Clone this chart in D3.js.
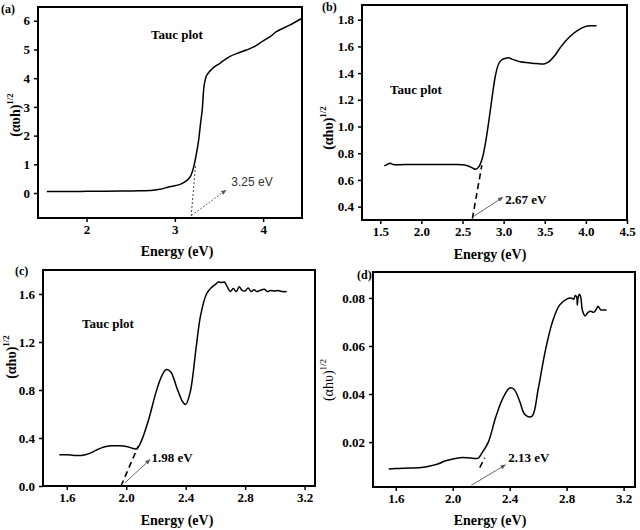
<!DOCTYPE html>
<html><head><meta charset="utf-8">
<script src="https://cdn.jsdelivr.net/npm/d3@7"></script>
<style>body{margin:0;background:#fff}svg{display:block}</style>
</head><body>
<script>
// ---- data ----
const aEnergy = [1.55,1.8,2.0,2.2,2.4,2.6,2.75,2.83,2.94,3.06,3.14,3.18,3.21,3.24,3.27,3.29,3.31,3.33,3.345,3.36,3.43,3.51,3.62,3.72,3.81,3.9,4.0,4.08,4.15,4.3,4.43];
const aValue  = [0.05,0.05,0.06,0.06,0.07,0.08,0.1,0.13,0.22,0.3,0.45,0.6,0.87,1.3,1.85,2.4,2.9,3.72,3.95,4.1,4.35,4.52,4.75,4.88,4.98,5.1,5.3,5.45,5.62,5.85,6.07];

const bEnergy = [1.55,1.58,1.62,1.66,1.8,2.0,2.2,2.4,2.5,2.57,2.62,2.66,2.7,2.74,2.78,2.82,2.86,2.9,2.94,2.98,3.02,3.06,3.1,3.2,3.3,3.4,3.5,3.56,3.62,3.7,3.8,3.9,4.0,4.06,4.13];
const bValue  = [0.705,0.715,0.725,0.715,0.715,0.715,0.715,0.715,0.713,0.705,0.69,0.68,0.7,0.76,0.88,1.04,1.22,1.38,1.47,1.5,1.51,1.515,1.505,1.485,1.478,1.472,1.47,1.49,1.53,1.6,1.67,1.72,1.75,1.755,1.755];

const cEnergy = [1.55,1.6,1.65,1.7,1.75,1.8,1.85,1.9,1.95,2.0,2.04,2.07,2.1,2.15,2.2,2.24,2.27,2.3,2.34,2.38,2.4,2.43,2.47,2.5,2.54,2.57,2.6,2.62,2.64,2.66,2.68,2.7,2.72,2.74,2.76,2.78,2.8,2.82,2.84,2.86,2.88,2.9,2.93,2.95,2.97,3.0,3.02,3.05,3.08];
const cValue  = [0.26,0.26,0.255,0.255,0.27,0.3,0.325,0.335,0.335,0.33,0.315,0.31,0.37,0.55,0.78,0.92,0.97,0.95,0.82,0.7,0.68,0.78,1.15,1.42,1.6,1.65,1.68,1.7,1.695,1.7,1.66,1.62,1.645,1.62,1.66,1.63,1.625,1.65,1.62,1.635,1.62,1.63,1.64,1.62,1.63,1.625,1.63,1.62,1.62];

const dEnergy = [1.55,1.6,1.7,1.78,1.85,1.9,1.95,2.0,2.05,2.1,2.15,2.18,2.2,2.25,2.3,2.35,2.4,2.43,2.47,2.5,2.53,2.56,2.6,2.65,2.7,2.75,2.8,2.83,2.85,2.86,2.87,2.875,2.88,2.89,2.9,2.91,2.93,2.95,2.97,2.99,3.01,3.02,3.04,3.06,3.08];
const dValue  = [0.0088,0.009,0.0092,0.0094,0.0102,0.011,0.0122,0.013,0.0135,0.0135,0.0132,0.0133,0.015,0.02,0.03,0.038,0.0425,0.042,0.037,0.032,0.0305,0.031,0.042,0.058,0.07,0.077,0.0795,0.08,0.0795,0.081,0.0805,0.077,0.08,0.0815,0.08,0.075,0.0725,0.074,0.0745,0.074,0.0755,0.0765,0.075,0.075,0.075];

const aXTicks = [2,3,4];           const aYTicks = [0,1,2,3,4,5,6];
const bXTicks = [1.5,2.0,2.5,3.0,3.5,4.0,4.5]; const bYTicks = [0.4,0.6,0.8,1.0,1.2,1.4,1.6,1.8];
const cXTicks = [1.6,2.0,2.4,2.8,3.2]; const cYTicks = [0.0,0.4,0.8,1.2,1.6];
const dXTicks = [1.6,2.0,2.4,2.8,3.2]; const dYTicks = [0.02,0.04,0.06,0.08];

const panelLetters = ["(a)","(b)","(c)","(d)"];
const gapLabels = ["3.25 eV","2.67 eV","1.98 eV","2.13 eV"];
const xTitle = "Energy (eV)";
const yTitles = ["(αυh)","(αhυ)","(αhυ)","(αhυ)"];
const tauc = "Tauc plot";

// ---- drawing ----
const W = 640, H = 530;
const svg = d3.select("body").append("svg").attr("width", W).attr("height", H);
const defs = svg.append("defs");
defs.append("marker").attr("id","arr").attr("viewBox","0 0 10 10").attr("refX",9).attr("refY",5)
  .attr("markerWidth",6).attr("markerHeight",6).attr("orient","auto-start-reverse")
  .append("path").attr("d","M0,1 L10,5 L0,9 z").attr("fill","#555");

const serif = "Liberation Serif";
const sans = "Liberation Sans";

const panels = [
  {E:aEnergy, V:aValue, xt:aXTicks, yt:aYTicks, xf:d3.format("d"), yf:d3.format("d"),
   box:[38,7,302,218], xd:[1.45,4.44], yd:[-0.87,6.48],
   tan:[[3.185,-0.8],[3.235,1.0]], tanStyle:"dot",
   arr:[[3.19,-0.78],[3.58,0.1]], lab:[3.64,0.24], labSans:true,
   letter:[1,13], xlab:[177,256], ylab:[17,115], ylBold:true, tauc:[177,39,"middle"]},
  {E:bEnergy, V:bValue, xt:bXTicks, yt:bYTicks, xf:d3.format(".1f"), yf:d3.format(".1f"),
   box:[362,5,627,220], xd:[1.278,4.5], yd:[0.3,1.91],
   tan:[[2.62,0.31],[2.735,0.71]], tanStyle:"dash",
   arr:[[2.63,0.325],[2.99,0.47]], lab:[3.02,0.42], labSans:false,
   letter:[322,11], xlab:[490,259], ylab:[330,128], ylBold:true, tauc:[390,94,"start"]},
  {E:cEnergy, V:cValue, xt:cXTicks, yt:cYTicks, xf:d3.format(".1f"), yf:d3.format(".1f"),
   box:[43,270,315,486], xd:[1.44,3.27], yd:[0,1.80],
   tan:[[1.965,0.0],[2.08,0.33]], tanStyle:"dash",
   arr:[[1.99,0.025],[2.16,0.22]], lab:[2.17,0.2], labSans:false,
   letter:[15,275], xlab:[177,525], ylab:[13,357], ylBold:true, tauc:[82,328,"start"]},
  {E:dEnergy, V:dValue, xt:dXTicks, yt:dYTicks, xf:d3.format(".1f"), yf:d3.format(".2f"),
   box:[373,272,635,487], xd:[1.44,3.28], yd:[0.0013,0.0908],
   tan:[[2.19,0.0094],[2.225,0.0135]], tanStyle:"dash",
   arr:[[2.13,0.002],[2.37,0.0105]], lab:[2.39,0.0116], labSans:false,
   letter:[357,279], xlab:[490,525], ylab:[330,380], ylBold:false, tauc:null}
];

panels.forEach((p, i) => {
  const [x0,y0,x1,y1] = p.box;
  const x = d3.scaleLinear().domain(p.xd).range([x0,x1]);
  const y = d3.scaleLinear().domain(p.yd).range([y1,y0]);
  const g = svg.append("g");

  const xa = g.append("g").attr("transform",`translate(0,${y1})`)
    .call(d3.axisBottom(x).tickValues(p.xt).tickFormat(p.xf).tickSize(4).tickPadding(3));
  const ya = g.append("g").attr("transform",`translate(${x0},0)`)
    .call(d3.axisLeft(y).tickValues(p.yt).tickFormat(p.yf).tickSize(4).tickPadding(4));
  [xa,ya].forEach(a => {
    a.attr("font-family",serif);
    a.select(".domain").remove();
    a.selectAll("line").attr("stroke","#000").attr("stroke-width",1.5);
    a.selectAll("text").attr("font-family",serif).attr("font-weight","bold").attr("font-size",13).attr("fill","#000");
  });
  g.append("rect").attr("x",x0).attr("y",y0).attr("width",x1-x0).attr("height",y1-y0)
    .attr("fill","none").attr("stroke","#000").attr("stroke-width",2);

  const line = d3.line().x((d,k)=>x(p.E[k])).y((d,k)=>y(p.V[k])).curve(d3.curveCatmullRom.alpha(0.5));
  g.append("path").datum(p.V).attr("d",line).attr("fill","none").attr("stroke","#000").attr("stroke-width",1.5);

  g.append("line").attr("x1",x(p.tan[0][0])).attr("y1",y(p.tan[0][1]))
    .attr("x2",x(p.tan[1][0])).attr("y2",y(p.tan[1][1]))
    .attr("stroke", p.tanStyle==="dot" ? "#444" : "#000")
    .attr("stroke-width", p.tanStyle==="dot" ? 1 : 1.6)
    .attr("stroke-dasharray", p.tanStyle==="dot" ? "2,2" : "6,4");
  g.append("line").attr("x1",x(p.arr[0][0])).attr("y1",y(p.arr[0][1]))
    .attr("x2",x(p.arr[1][0])).attr("y2",y(p.arr[1][1]))
    .attr("stroke","#555").attr("stroke-width",0.9)
    .attr("stroke-dasharray", i===0 ? "2,1.5" : null)
    .attr("marker-end","url(#arr)");
  g.append("text").attr("x",x(p.lab[0])).attr("y",y(p.lab[1]))
    .attr("font-family", p.labSans ? sans : serif)
    .attr("font-weight", p.labSans ? "normal" : "bold")
    .attr("font-size", p.labSans ? 12 : 13).attr("fill", p.labSans ? "#333" : "#000")
    .text(gapLabels[i]);

  g.append("text").attr("x",p.letter[0]).attr("y",p.letter[1]).attr("font-family",serif)
    .attr("font-weight","bold").attr("font-size",12).text(panelLetters[i]);
  g.append("text").attr("x",p.xlab[0]).attr("y",p.xlab[1]).attr("text-anchor","middle")
    .attr("font-family",serif).attr("font-weight","bold").attr("font-size",14).text(xTitle);
  const yt = g.append("text").attr("transform",`translate(${p.ylab[0]},${p.ylab[1]}) rotate(-90)`)
    .attr("text-anchor","middle").attr("dominant-baseline","middle")
    .attr("font-family",serif).attr("font-weight", p.ylBold ? "bold" : "normal").attr("font-size",14);
  yt.append("tspan").text(yTitles[i]);
  yt.append("tspan").attr("dy",-6).attr("font-size",9).text("1/2");
  if (p.tauc) {
    g.append("text").attr("x",p.tauc[0]).attr("y",p.tauc[1]).attr("text-anchor",p.tauc[2])
      .attr("font-family",serif).attr("font-weight","bold").attr("font-size",13).text(tauc);
  }
});
</script>
</body></html>
